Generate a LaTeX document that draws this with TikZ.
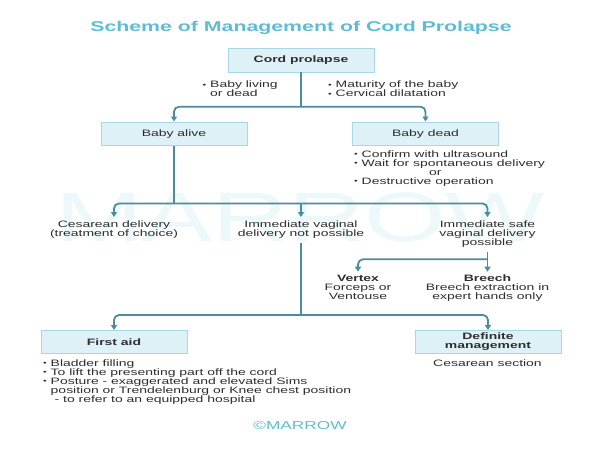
\documentclass[tikz,border=0pt]{standalone}
\usepackage{fontspec}
\setmainfont{Liberation Sans}[FakeStretch=1.5]
\usetikzlibrary{arrows.meta}
\definecolor{ttlc}{HTML}{5EBDD4}
\definecolor{boxfill}{HTML}{DDF1F7}
\definecolor{boxline}{HTML}{A6D8E5}
\definecolor{lnk}{HTML}{4A8D9C}
\definecolor{ink}{HTML}{2E2E2E}
\definecolor{wmark}{HTML}{EDF8FB}
\newcommand\bodyfont{\fontsize{9.3}{9}\selectfont\lineskiplimit=-5pt}
\newcommand\bl{\raisebox{0.15ex}{\scalebox{0.75}{•}}\ }
\begin{document}
\begin{tikzpicture}[x=1pt,y=-1pt,
  txt/.style={inner sep=0pt, text=ink, font=\bodyfont},
  box/.style={draw=boxline, fill=boxfill, line width=0.9pt, minimum width=146pt,
    minimum height=23.5pt, inner sep=0pt, text=ink, font=\bodyfont, align=center},
  boxb/.style={box, font=\bodyfont\bfseries},
  link/.style={draw=lnk, line width=1.8pt},
  arr/.style={link, rounded corners=5pt, -{Triangle[width=6pt,length=5pt]}}
]
\useasboundingbox (0,0) rectangle (600,451);
\fill[white] (0,0) rectangle (600,451);

% watermark
\node[inner sep=0pt, text=wmark, font=\fontsize{70}{70}\selectfont] (wm) at (300,217) {MARROW};

% title
\node[inner sep=0pt, anchor=base, text=ttlc, font=\fontsize{14.2}{15}\selectfont\bfseries] (title) at (301,31.8) {Scheme of Management of Cord Prolapse};

% boxes
\node[boxb, minimum height=24pt] (cp) at (301,60) {Cord prolapse};
\node[box] (alive) at (174,133.7) {Baby alive};
\node[box] (dead) at (425.5,133.7) {Baby dead};
\node[boxb, minimum height=23pt] (first) at (114,342) {First aid};
\node[boxb, minimum height=23pt] (defin) at (488,342) {Definite\\management};

% notes
\node[txt, anchor=north west, align=left] (n1) at (202.5,81) {\bl Baby living\\\phantom{\bl}or dead};
\node[txt, anchor=north west, align=left] (n2) at (328,81) {\bl Maturity of the baby\\\bl Cervical dilatation};
\node[txt, anchor=north west, align=left] (dn) at (354,150.7) {\bl Confirm with ultrasound\\\bl Wait for spontaneous delivery\\\hspace*{75pt}or\\\bl Destructive operation};

\node[txt, anchor=north, align=center] (ces) at (114,221) {Cesarean delivery\\(treatment of choice)};
\node[txt, anchor=north, align=center] (imm) at (301,221) {Immediate vaginal\\delivery not possible};
\node[txt, anchor=north, align=center] (safe) at (487.5,221) {Immediate safe\\vaginal delivery\\possible};

\node[txt, anchor=north, align=center] (vtx) at (358,275) {\textbf{Vertex}\\Forceps or\\Ventouse};
\node[txt, anchor=north, align=center] (brc) at (487.5,275) {\textbf{Breech}\\Breech extraction in\\expert hands only};

\node[txt, anchor=north west, align=left] (fn) at (43,359.4) {\bl Bladder filling\\\bl To lift the presenting part off the cord\\\bl Posture - exaggerated and elevated Sims\\\phantom{\bl}position or Trendelenburg or Knee chest position\\\phantom{\bl} - to refer to an equipped hospital};
\node[txt, anchor=north] (cs) at (487.5,359.4) {Cesarean section};

\node[inner sep=0pt, anchor=base, text=ttlc, font=\fontsize{11.5}{12}\selectfont] (logo) at (300,429.5) {©MARROW};

% junctions
\coordinate (j1) at (301,106.7);
\coordinate (j2) at (174,203.5);
\coordinate (j3) at (487.5,259.3);
\coordinate (j4) at (301,315);

% connectors
\draw[link] (cp.south) -- (j1);
\draw[arr] (j1) -| (alive.north);
\draw[arr] (j1) -| (dead.north);

\draw[link] (alive.south) -- (j2);
\draw[arr, shorten >=4pt] (j2) -| (ces.north);
\draw[arr, shorten >=4pt] (j2) -| (safe.north);
\draw[arr, shorten >=4pt] (imm.north |- j2) -- (imm.north);

\draw[link, shorten <=3.5pt] (safe.south) -- (j3);
\draw[arr, shorten >=3.3pt] (j3) -| (vtx.north);
\draw[arr, shorten >=3.3pt] (j3) -- (brc.north);

\draw[link, shorten <=3.5pt] (imm.south) -- (j4);
\draw[arr] (j4) -| (first.north);
\draw[arr] (j4) -| (defin.north);
\end{tikzpicture}
\end{document}
